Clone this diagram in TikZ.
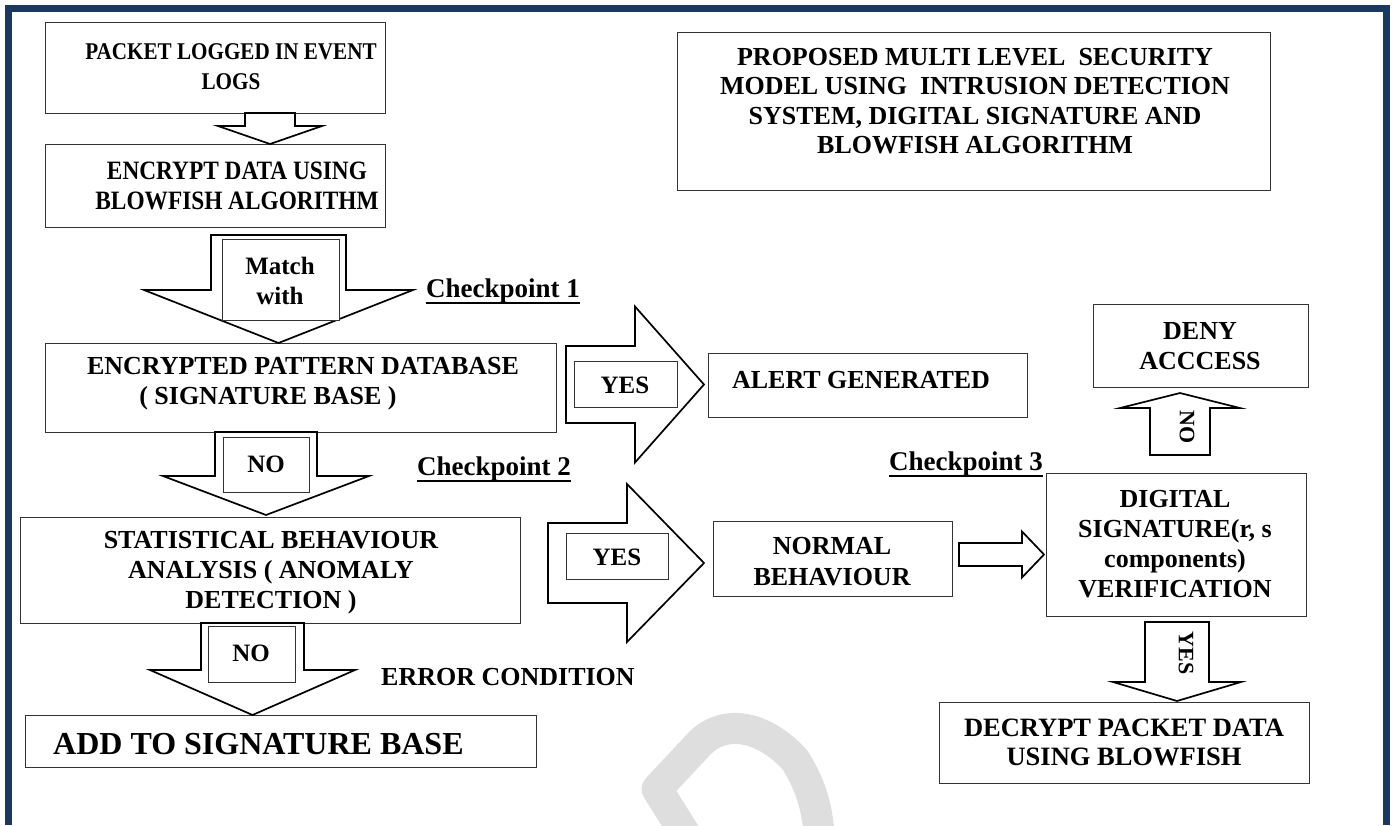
\documentclass[tikz,border=0pt]{standalone}
\usepackage{fontspec}
\setmainfont{Liberation Serif}
\newfontfamily\condA[FakeStretch=0.88]{Liberation Serif}
\definecolor{framec}{RGB}{27,57,94}
\definecolor{wmark}{RGB}{222,222,222}
\tikzset{
  box/.style={draw=black!80, line width=1.3pt, fill=white, inner sep=0pt, anchor=north west},
  blk/.style={draw=black, line width=1.7pt, fill=white, line join=miter},
  lbl/.style={font=\bfseries\fontsize{26}{30}\selectfont, align=center, inner sep=0pt},
  cpt/.style={font=\bfseries\fontsize{27}{30}\selectfont, inner sep=0pt},
  uline/.style={draw=black, line width=2pt},
  wm/.style={draw=wmark, line width=31pt, line join=round}
}
% vertical block arrow: cx, start y, shaft half width, shoulder y, head half width, tip y
\newcommand\blockv[6]{\draw[blk] ({#1-#3},#2) -- ({#1-#3},#4) -- ({#1-#5},#4) -- (#1,#6) -- ({#1+#5},#4) -- ({#1+#3},#4) -- ({#1+#3},#2) -- cycle;}
% horizontal block arrow: cy, start x, shaft half height, shoulder x, head half height, tip x
\newcommand\blockh[6]{\draw[blk] (#2,{#1-#3}) -- (#4,{#1-#3}) -- (#4,{#1-#5}) -- (#6,#1) -- (#4,{#1+#5}) -- (#4,{#1+#3}) -- (#2,{#1+#3}) -- cycle;}
% box: name, x, y (top-left), width, height
\newcommand\boxat[5]{\node[box, minimum width=#4pt, minimum height=#5pt] (#1) at (#2,#3) {};}
\begin{document}
\begin{tikzpicture}[x=1pt,y=-1pt]
\useasboundingbox (0,0) rectangle (1394,825);
% frame
\fill[framec] (5,5) rectangle (1390,12);
\fill[framec] (5,5) rectangle (12,825);
\fill[framec] (1383,5) rectangle (1390,825);
% watermark
\begin{scope}
\clip (0,0) rectangle (1394,825);
\draw[wm] (692,845) -- (657,789) -- (701,742) .. controls (727,718) and (765,727) .. (795,760) .. controls (812,787) and (818,810) .. (820,845);
\end{scope}
% boxes
\boxat{b1}{45}{22}{340}{91}
\boxat{b2}{45}{144}{340}{83}
\boxat{title}{677}{32}{593}{158}
\boxat{b3}{45}{343}{511}{89}
\boxat{b4}{20}{517}{500}{106}
\boxat{add}{25}{715}{511}{52}
\boxat{alert}{708}{353}{319}{64}
\boxat{normal}{713}{521}{239}{75}
\boxat{dig}{1046}{473}{260}{143}
\boxat{deny}{1093}{304}{215}{83}
\boxat{decr}{939}{702}{370}{81}
% block arrows
\blockv{270}{113}{25}{126}{52}{144}
\blockv{278.5}{235}{67.5}{290}{134.5}{343}
\blockv{266}{432}{51}{476}{103}{515}
\blockv{252.5}{623}{51.5}{670}{102.5}{715}
\blockh{384.5}{566}{38.5}{635}{78}{704}
\blockh{563}{548}{40}{627}{79}{704}
\blockh{554.5}{959}{11.5}{1022}{23}{1044}
\blockv{1180}{455}{30}{408}{60}{393}
\blockv{1177}{622}{32}{682}{64}{701}
% inner label boxes
\boxat{imatch}{222}{239}{117}{81}
\boxat{iyes1}{574}{361}{103}{46}
\boxat{ino1}{223}{437}{86}{55}
\boxat{iyes2}{566}{533}{102}{46}
\boxat{ino2}{208}{626}{87}{56}
% texts
\node[lbl, font=\condA\bfseries\fontsize{24}{30}\selectfont] (t1) at (231,67) {PACKET LOGGED IN EVENT\\LOGS};
\node[lbl, font=\condA\bfseries\fontsize{26.5}{30}\selectfont] (t2) at (237,186) {ENCRYPT DATA USING\\BLOWFISH ALGORITHM};
\node[lbl, font=\bfseries\fontsize{26}{29.5}\selectfont] (ttitle) at (975,101) {PROPOSED MULTI LEVEL\ \ SECURITY\\MODEL USING\ \ INTRUSION DETECTION\\SYSTEM, DIGITAL SIGNATURE AND\\BLOWFISH ALGORITHM};
\node[lbl] (t3) at (303,384) {ENCRYPTED PATTERN DATABASE\\( SIGNATURE BASE )\hspace*{70pt}};
\node[lbl] (t4) at (271,573) {STATISTICAL BEHAVIOUR\\ANALYSIS ( ANOMALY\\DETECTION )};
\node[lbl, font=\bfseries\fontsize{32}{36}\selectfont, anchor=west] (tadd) at (53,744) {ADD TO SIGNATURE BASE};
\node[lbl] (talert) at (861,380) {ALERT GENERATED};
\node[lbl, font=\bfseries\fontsize{26}{31}\selectfont] (tnormal) at (832,562) {NORMAL\\BEHAVIOUR};
\node[lbl] (tdig) at (1175,544) {DIGITAL\\SIGNATURE(r, s\\components)\\VERIFICATION};
\node[lbl] (tdeny) at (1200,346) {DENY\\ACCCESS};
\node[lbl, font=\bfseries\fontsize{26.5}{29}\selectfont] (tdecr) at (1124,742) {DECRYPT PACKET DATA\\USING BLOWFISH};
\node[lbl, font=\bfseries\fontsize{25}{30}\selectfont] (tmatch) at (280,281) {Match\\with};
\node[lbl, font=\bfseries\fontsize{25}{30}\selectfont] (tyes1) at (625,385) {YES};
\node[lbl, font=\bfseries\fontsize{25}{30}\selectfont] (tno1) at (266,464) {NO};
\node[lbl, font=\bfseries\fontsize{25}{30}\selectfont] (tyes2) at (617,557) {YES};
\node[lbl, font=\bfseries\fontsize{25}{30}\selectfont] (tno2) at (251,653) {NO};
\node[lbl, font=\bfseries\fontsize{22}{26}\selectfont, rotate=-90] (tnoup) at (1187,427) {NO};
\node[lbl, font=\bfseries\fontsize{22}{26}\selectfont, rotate=-90] (tyesdn) at (1186,653) {YES};
\node[cpt] (cp1) at (503,291) {Checkpoint 1};
\node[cpt] (cp2) at (494,469) {Checkpoint 2};
\node[cpt] (cp3) at (966,464) {Checkpoint 3};
\draw[uline] (cp1.south west) -- (cp1.south east);
\draw[uline] (cp2.south west) -- (cp2.south east);
\draw[uline] (cp3.south west) -- (cp3.south east);
\node[lbl, font=\bfseries\fontsize{26}{30}\selectfont] (err) at (508,677) {ERROR CONDITION};
\end{tikzpicture}
\end{document}
